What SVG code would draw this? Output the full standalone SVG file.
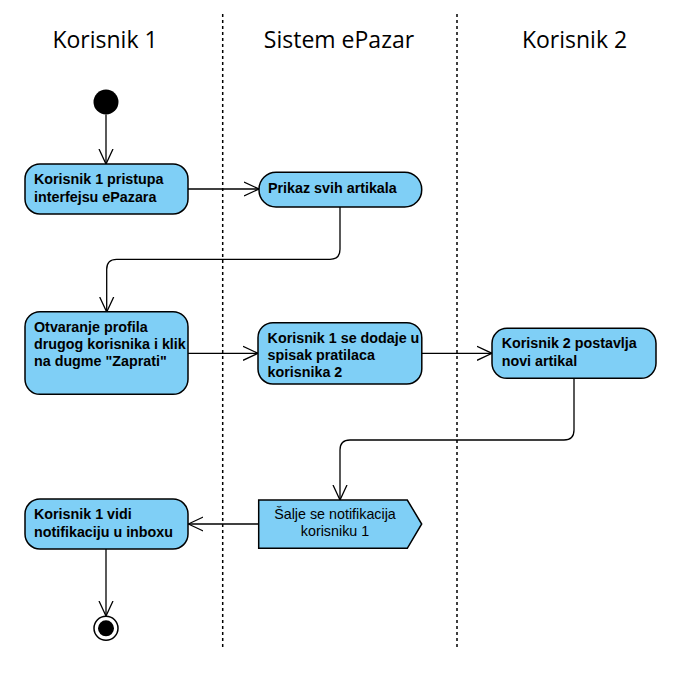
<svg xmlns="http://www.w3.org/2000/svg" width="689" height="680" viewBox="0 0 689 680">
<defs>
<marker id="arr" markerWidth="16" markerHeight="16" refX="15" refY="8" orient="auto" markerUnits="userSpaceOnUse">
<path d="M0,1 L15,8 L0,15" fill="none" stroke="#000" stroke-width="1.3"/>
</marker>
<style>
.lane{stroke:#000;stroke-width:1.5;stroke-dasharray:3 3;fill:none}
.hdr{font-family:"Open Sans","Noto Sans",sans-serif;font-size:23px;fill:#000;text-anchor:middle}
.act{fill:#7fcff6;stroke:#000;stroke-width:1.5}
.t{font-family:"Liberation Sans",Arial,sans-serif;font-size:14.3px;font-weight:bold;fill:#000}
.tn{font-family:"Liberation Sans",Arial,sans-serif;font-size:14.3px;fill:#000;text-anchor:middle}
.c{fill:none;stroke:#000;stroke-width:1.3;marker-end:url(#arr)}
</style>
</defs>
<rect width="689" height="680" fill="#fff"/>
<g id="lanes">
<line class="lane" x1="222.7" y1="14" x2="222.7" y2="650"/>
<line class="lane" x1="457" y1="14" x2="457" y2="650"/>
<text class="hdr" x="105" y="48.3">Korisnik 1</text>
<text class="hdr" x="339" y="48.3">Sistem ePazar</text>
<text class="hdr" x="574.5" y="48.3">Korisnik 2</text>
</g>
<g id="connectors">
<path class="c" d="M106,114.5 L106,164"/>
<path class="c" d="M188,189 L259,189"/>
<path class="c" d="M340,207 L340,249.3 Q340,259.3 330,259.3 L116.7,259.3 Q106.7,259.3 106.7,269.3 L106.7,312"/>
<path class="c" d="M188,353.3 L258,353.3"/>
<path class="c" d="M422,353.3 L492,353.3"/>
<path class="c" d="M574,378.3 L574,430 Q574,440 564,440 L350,440 Q340,440 340,450 L340,500"/>
<path class="c" d="M258.7,524 L188.3,524"/>
<path class="c" d="M106,549 L106,616"/>
</g>
<g id="start"><circle cx="106" cy="102" r="12.5" fill="#000"/></g>
<g id="n1">
<rect class="act" x="25" y="164" width="163" height="50" rx="15" ry="15"/>
<text class="t" x="34" y="184">Korisnik 1 pristupa</text>
<text class="t" x="34" y="202">interfejsu ePazara</text>
</g>
<g id="n2">
<rect class="act" x="259" y="172.3" width="162.7" height="34.7" rx="17" ry="17"/>
<text class="t" x="268" y="193.3">Prikaz svih artikala</text>
</g>
<g id="n3">
<rect class="act" x="25" y="311.7" width="163" height="82.6" rx="15" ry="15"/>
<text class="t" x="34" y="332.3">Otvaranje profila</text>
<text class="t" x="34" y="349.3">drugog korisnika i klik</text>
<text class="t" x="34" y="366.3">na dugme "Zaprati"</text>
</g>
<g id="n4">
<rect class="act" x="258" y="322.7" width="163.8" height="61.3" rx="15" ry="15"/>
<text class="t" x="267.6" y="343.3">Korisnik 1 se dodaje u</text>
<text class="t" x="267.6" y="360.3">spisak pratilaca</text>
<text class="t" x="267.6" y="377.3">korisnika 2</text>
</g>
<g id="n5">
<rect class="act" x="492" y="328.3" width="164" height="50" rx="15" ry="15"/>
<text class="t" x="501.7" y="348.3">Korisnik 2 postavlja</text>
<text class="t" x="501.7" y="366">novi artikal</text>
</g>
<g id="n6">
<polygon class="act" points="258.7,500 407.3,500 421.7,524 407.3,548.3 258.7,548.3"/>
<text class="tn" x="335" y="519">Šalje se notifikacija</text>
<text class="tn" x="335" y="536.3">korisniku 1</text>
</g>
<g id="n7">
<rect class="act" x="25" y="499" width="163" height="50" rx="15" ry="15"/>
<text class="t" x="34" y="519">Korisnik 1 vidi</text>
<text class="t" x="34" y="536.7">notifikaciju u inboxu</text>
</g>
<g id="end">
<circle cx="106" cy="628.3" r="12" fill="#fff" stroke="#000" stroke-width="1.5"/>
<circle cx="106" cy="628.3" r="8" fill="#000"/>
</g>
</svg>
